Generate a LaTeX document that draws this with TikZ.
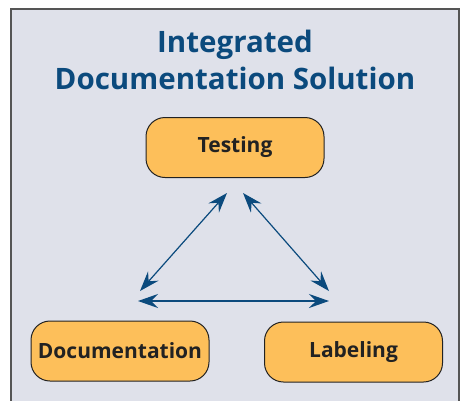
\documentclass[tikz,border=0pt]{standalone}
\usepackage{fontspec}
\setmainfont{Open Sans}
\usetikzlibrary{arrows.meta}
\definecolor{bgc}{HTML}{DFE1EA}
\definecolor{boxc}{HTML}{FDBF5A}
\definecolor{arrc}{HTML}{0B4A7D}
\definecolor{txtc}{HTML}{222222}
\definecolor{frc}{HTML}{555555}
\tikzset{
  px/.style={x=1pt,y=-1pt},
  boxnode/.style={draw=txtc, line width=1pt, fill=boxc, rounded corners=19pt,
    minimum width=178pt, minimum height=60pt, inner sep=0pt,
    font=\fontsize{21}{24}\selectfont\bfseries, text=txtc},
  conn/.style={draw=arrc, line width=1.2pt, {Stealth[length=20pt,width=14pt,inset=7pt]}-{Stealth[length=20pt,width=14pt,inset=7pt]}}
}
\begin{document}
\begin{tikzpicture}[px]
\useasboundingbox (0,0) rectangle (463,400);
\fill[white] (0,0) rectangle (463,400);
\filldraw[fill=bgc, draw=frc, line width=1.3pt] (11,409) -- (11,9) -- (459,9) -- (459,409);
\node[font=\fontsize{29.5}{37}\selectfont\bfseries, text=arrc, align=center] (title) at (235,60) {Integrated\\Documentation Solution};
\node[boxnode] (testing) at (235,147.5) {Testing};
\node[boxnode] (doc) at (120,351) {Documentation};
\node[boxnode] (lab) at (353.5,352) {Labeling};
\coordinate (a1) at (140,291);
\coordinate (a2) at (227,193);
\coordinate (b1) at (243,193);
\coordinate (b2) at (329,291);
\coordinate (c1) at (138,301);
\coordinate (c2) at (329,301);
\draw[conn] (a1) -- (a2);
\draw[conn] (b1) -- (b2);
\draw[conn] (c1) -- (c2);
\end{tikzpicture}
\end{document}
